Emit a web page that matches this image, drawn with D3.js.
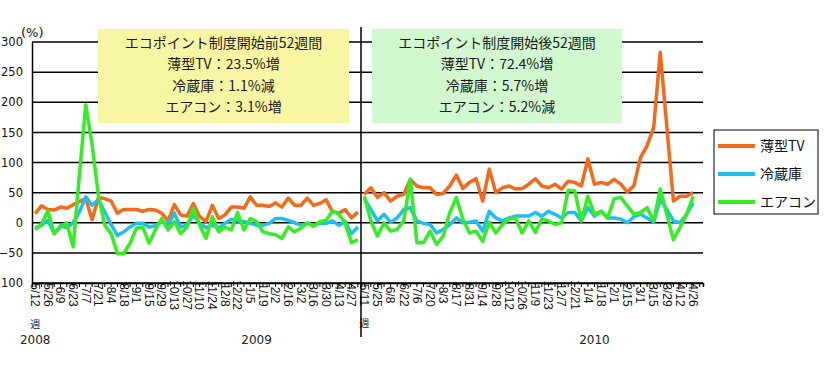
<!DOCTYPE html>
<html>
<head>
<meta charset="utf-8">
<script src="https://cdn.jsdelivr.net/npm/d3@7"></script>
<style>
  html, body { margin: 0; padding: 0; background: #fff; }
  #graph { width: 826px; height: 369px; overflow: hidden; }
</style>
</head>
<body>
<div id="graph"></div>
<script>
const weeksBefore = ["5/12","5/19","5/26","6/2","6/9","6/16","6/23","6/30","7/7","7/14","7/21","7/28",
  "8/4","8/11","8/18","8/25","9/1","9/8","9/15","9/22","9/29","10/6","10/13","10/20","10/27","11/3",
  "11/10","11/17","11/24","12/1","12/8","12/15","12/22","12/29","1/5","1/12","1/19","1/26","2/2","2/9",
  "2/16","2/23","3/2","3/9","3/16","3/23","3/30","4/6","4/13","4/20","4/27","5/4"];
const weeksAfter = ["5/11","5/18","5/25","6/1","6/8","6/15","6/22","6/29","7/6","7/13","7/20","7/27",
  "8/3","8/10","8/17","8/24","8/31","9/7","9/14","9/21","9/28","10/5","10/12","10/19","10/26","11/2",
  "11/9","11/16","11/23","11/30","12/7","12/14","12/21","12/28","1/4","1/11","1/18","1/25","2/1","2/8",
  "2/15","2/22","3/1","3/8","3/15","3/22","3/29","4/5","4/12","4/19","4/26","5/3"];

// 前年同週比 (%)
const tvBefore = [15,28,22,21,26,24,30,35,40,5,42,40,36,16,22,22,22,19,22,21,16,3,30,13,11,32,
  10,2,29,7,13,26,26,24,43,29,29,27,33,26,41,29,29,41,29,32,38,18,16,22,8,18];
const fridgeBefore = [-9,-4,4,-18,-5,-8,0,18,43,29,38,18,-3,-21,-15,-7,-1,-1,-7,-5,2,-3,16,-7,-4,13,
  -1,-8,-4,-9,-1,6,3,2,-1,-4,-4,-1,7,7,4,0,-4,-1,-4,-1,-1,3,-4,2,-18,-7];
const acBefore = [-11,-3,20,-18,-7,0,-40,80,196,130,45,-4,-18,-51,-51,-34,-9,-7,-34,-12,7,-12,2,-18,-7,24,
  -4,-26,10,-15,-7,-12,17,-12,7,2,-15,-18,-20,-26,-7,-15,-9,0,-6,2,4,20,14,-1,-33,-28];

const tvAfter = [47,58,42,50,36,44,47,72,61,58,58,47,49,61,79,57,67,73,36,89,50,58,61,56,57,64,
  73,61,58,64,56,69,67,61,106,64,67,64,72,64,51,62,108,128,158,283,160,36,44,44,50];
const fridgeAfter = [40,22,3,14,1,8,22,25,3,-1,-3,-17,-11,-3,8,0,1,3,-14,19,8,3,8,11,11,11,
  17,11,19,14,8,17,17,3,25,11,19,8,8,6,0,10,14,8,1,39,22,3,0,14,33];
const acAfter = [44,3,-22,0,-14,-11,3,72,-33,-33,-14,-36,-22,17,42,6,-17,-14,-31,1,-17,-3,6,8,-17,3,
  -16,6,3,-3,0,54,53,3,44,14,19,8,40,42,28,14,17,25,3,56,14,-28,-8,14,44];

const yTicks = [-100,-50,0,50,100,150,200,250,300];
const seriesNames = ["薄型TV","冷蔵庫","エアコン"];
const seriesColors = ["#f4691a","#1fbdf0","#33ee22"];

const noteBefore = ["エコポイント制度開始前52週間","薄型TV：23.5%増","冷蔵庫：1.1%減","エアコン：3.1%増"];
const noteAfter  = ["エコポイント制度開始後52週間","薄型TV：72.4%増","冷蔵庫：5.7%増","エアコン：5.2%減"];

const width = 826, height = 369;
const plotLeft = 32, plotMid = 361, plotRight = 703, plotTop = 42, plotBottom = 283;

d3.select("#graph").html("");
const svg = d3.select("#graph").append("svg")
  .attr("width", width)
  .attr("height", height)
  .style("font-family", "'DejaVu Sans', Verdana, sans-serif");

svg.append("rect").attr("width", width).attr("height", height).attr("fill", "#fff");

const y = d3.scaleLinear().domain([-100, 300]).range([plotBottom, plotTop]);
const xL = d3.scaleBand().domain(d3.range(weeksBefore.length)).range([plotLeft, plotMid]);
const xR = d3.scaleBand().domain(d3.range(weeksAfter.length)).range([plotMid, plotRight]);

// grid
svg.append("g").selectAll("line")
  .data(yTicks)
  .join("line")
  .attr("x1", plotLeft).attr("x2", plotRight)
  .attr("y1", d => y(d)).attr("y2", d => y(d))
  .attr("stroke", "#000").attr("stroke-width", 1.5);

// y axis
const yAxis = svg.append("g")
  .attr("transform", `translate(${plotLeft},0)`)
  .call(d3.axisLeft(y).tickValues(yTicks).tickSize(0).tickPadding(9));
yAxis.select("path.domain").attr("stroke", "#000").attr("stroke-width", 1.5);
yAxis.selectAll("text").attr("font-size", 11.5).attr("fill", "#111").attr("font-family", "'DejaVu Sans', sans-serif");

svg.append("text")
  .attr("x", 21).attr("y", 37)
  .attr("font-size", 13).attr("fill", "#111")
  .text("(%)");

// x axes, label every other week
function drawXAxis(scale, weeks) {
  const g = svg.append("g")
    .attr("transform", `translate(0,${plotBottom})`)
    .call(d3.axisBottom(scale).tickSize(4).tickFormat(() => ""));
  g.select("path.domain").attr("stroke", "#000").attr("stroke-width", 1.5);
  g.selectAll(".tick line").attr("stroke", "#000").attr("stroke-width", 1);
  g.selectAll(".tick text").remove();
  const lab = g.selectAll(".wk")
    .data(weeks.map((w, i) => ({ w, i })).filter(d => d.i % 2 === 0))
    .join("text")
    .attr("class", "wk")
    .attr("transform", d => `translate(${scale(d.i) + scale.bandwidth() / 2},12) rotate(90)`)
    .attr("dy", "0.35em")
    .attr("font-size", 12)
    .attr("fill", "#111")
    .text(d => d.w);
  // first label carries an upright 週
  const first = lab.filter(d => d.i === 0);
  const len = first.node().getComputedTextLength();
  g.append("text")
    .attr("x", scale(0) + scale.bandwidth() / 2)
    .attr("y", 12 + len + 1)
    .attr("dy", "0.85em")
    .attr("text-anchor", "middle")
    .attr("font-family", "'Noto Sans CJK JP', sans-serif")
    .attr("font-size", 10)
    .attr("fill", "#111")
    .text("週");
}
drawXAxis(xL, weeksBefore);
drawXAxis(xR, weeksAfter);

// year labels
const yearLabels = [["2008", xL, 0], ["2009", xL, 35], ["2010", xR, 35]];
svg.append("g").selectAll("text")
  .data(yearLabels)
  .join("text")
  .attr("x", d => d[1](d[2]) + d[1].bandwidth() / 2)
  .attr("y", 344)
  .attr("text-anchor", "middle")
  .attr("font-size", 12)
  .attr("fill", "#222")
  .text(d => d[0]);

// divider between the two periods
svg.append("line")
  .attr("x1", plotMid).attr("x2", plotMid)
  .attr("y1", 27).attr("y2", 337)
  .attr("stroke", "#000").attr("stroke-width", 1.5);

// note boxes
function drawNote(x0, x1, fill, lines) {
  svg.append("rect")
    .attr("x", x0).attr("y", 29)
    .attr("width", x1 - x0).attr("height", 94)
    .attr("fill", fill);
  svg.append("g").selectAll("text")
    .data(lines)
    .join("text")
    .attr("x", (x0 + x1) / 2)
    .attr("y", (d, i) => 43 + i * 21.3)
    .attr("dy", "0.35em")
    .attr("text-anchor", "middle")
    .attr("font-family", "'Noto Sans CJK JP', sans-serif")
    .attr("font-size", 14)
    .attr("fill", "#1a1a1a")
    .text(d => d);
}
drawNote(98, 349, "#f9f6a3", noteBefore);
drawNote(372, 622, "#d1f8cf", noteAfter);

// series
function drawSeries(scale, values, color) {
  const line = d3.line()
    .x((d, i) => scale(i) + scale.bandwidth() / 2)
    .y(d => y(d));
  svg.append("path")
    .datum(values)
    .attr("fill", "none")
    .attr("stroke", color)
    .attr("stroke-width", 3.5)
    .attr("stroke-linejoin", "round")
    .attr("d", line);
}
const before = [tvBefore, fridgeBefore, acBefore];
const after = [tvAfter, fridgeAfter, acAfter];
[0, 1, 2].forEach(k => {
  drawSeries(xL, before[k], seriesColors[k]);
  drawSeries(xR, after[k], seriesColors[k]);
});

// legend
const legend = svg.append("g");
legend.append("rect")
  .attr("x", 714).attr("y", 130).attr("width", 104).attr("height", 84)
  .attr("fill", "#fff").attr("stroke", "#000").attr("stroke-width", 1);
const item = legend.selectAll("g.item")
  .data(seriesNames)
  .join("g")
  .attr("class", "item")
  .attr("transform", (d, i) => `translate(718,${146 + i * 28})`);
item.append("line")
  .attr("x1", 0).attr("x2", 37)
  .attr("stroke", (d, i) => seriesColors[i])
  .attr("stroke-width", 4);
item.append("text")
  .attr("x", 42).attr("dy", "0.35em")
  .attr("font-family", "'Noto Sans CJK JP', sans-serif")
  .attr("font-size", 14).attr("fill", "#111")
  .text(d => d);
</script>
</body>
</html>
